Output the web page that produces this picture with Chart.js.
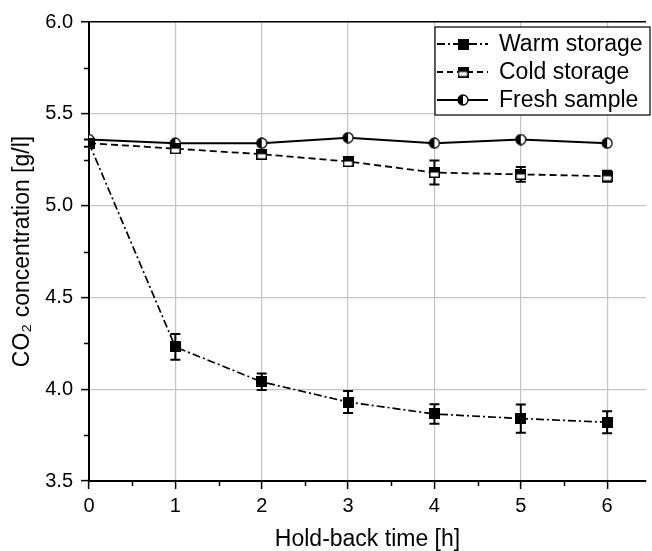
<!DOCTYPE html>
<html>
<head>
<meta charset="utf-8">
<script src="https://cdn.jsdelivr.net/npm/chart.js@4.4.0/dist/chart.umd.min.js"></script>
<style>
  html, body { margin: 0; padding: 0; background: #fff; overflow: hidden; }
  #wrap { width: 652px; height: 551px; }
</style>
</head>
<body>
<div id="wrap"><canvas id="c" width="652" height="551"></canvas></div>
<script>
// ---- data ----
const holdBackHours = [0, 1, 2, 3, 4, 5, 6];
const warmStorage = [5.34, 4.23, 4.04, 3.93, 3.865, 3.84, 3.82];
const warmStorageErr = [0, 0.07, 0.045, 0.06, 0.053, 0.077, 0.06];
const coldStorage = [5.34, 5.31, 5.28, 5.24, 5.18, 5.17, 5.16];
const coldStorageErr = [0.02, 0.02, 0.02, 0.02, 0.065, 0.04, 0.03];
const freshSample = [5.36, 5.34, 5.34, 5.37, 5.34, 5.36, 5.34];
const freshSampleErr = [0, 0, 0, 0, 0, 0, 0];
const seriesNames = ['Warm storage', 'Cold storage', 'Fresh sample'];
const yTickValues = [3.5, 4.0, 4.5, 5.0, 5.5, 6.0];
const xTickValues = [0, 1, 2, 3, 4, 5, 6];

// ---- marker images ----
function makeMarker(kind, size) {
  const c = document.createElement('canvas');
  c.width = size; c.height = size;
  const g = c.getContext('2d');
  const s = size;
  if (kind === 'filledSquare') {
    g.fillStyle = '#000';
    g.fillRect(0, 0, s, s);
  } else if (kind === 'halfSquare') {
    g.fillStyle = '#fff';
    g.fillRect(0, 0, s, s);
    g.fillStyle = '#000';
    g.fillRect(0, 0, s, s / 2);
    g.strokeStyle = '#000';
    g.lineWidth = 1.5;
    g.strokeRect(0.75, 0.75, s - 1.5, s - 1.5);
  } else if (kind === 'halfCircle') {
    const r = s / 2 - 1;
    g.fillStyle = '#fff';
    g.beginPath(); g.arc(s / 2, s / 2, r, 0, Math.PI * 2); g.fill();
    g.fillStyle = '#000';
    g.beginPath(); g.arc(s / 2, s / 2, r, Math.PI / 2, Math.PI * 1.5); g.closePath(); g.fill();
    g.strokeStyle = '#000';
    g.lineWidth = 1.3;
    g.beginPath(); g.arc(s / 2, s / 2, r, 0, Math.PI * 2); g.stroke();
  }
  return c;
}
const mWarm = makeMarker('filledSquare', 11);
const mCold = makeMarker('halfSquare', 11);
const mFresh = makeMarker('halfCircle', 12);

function pts(arr) { return holdBackHours.map((h, i) => ({ x: h, y: arr[i] })); }
const isMajorY = v => yTickValues.some(t => Math.abs(t - v) < 1e-9);
const isMajorX = v => xTickValues.some(t => Math.abs(t - v) < 1e-9);

const errs = [warmStorageErr, coldStorageErr, freshSampleErr];

const errorBarPlugin = {
  id: 'errorBars',
  beforeDatasetsDraw(chart) {
    const ctx = chart.ctx;
    const xs = chart.scales.x, ys = chart.scales.y;
    ctx.save();
    ctx.strokeStyle = '#000';
    ctx.lineWidth = 2;
    chart.data.datasets.forEach((ds, di) => {
      const e = errs[di];
      ds.data.forEach((p, i) => {
        if (!e[i]) return;
        const px = xs.getPixelForValue(p.x);
        const top = ys.getPixelForValue(p.y + e[i]);
        const bot = ys.getPixelForValue(p.y - e[i]);
        ctx.beginPath();
        ctx.moveTo(px, top); ctx.lineTo(px, bot);
        ctx.moveTo(px - 5, top); ctx.lineTo(px + 5, top);
        ctx.moveTo(px - 5, bot); ctx.lineTo(px + 5, bot);
        ctx.stroke();
      });
    });
    ctx.restore();
  }
};

// short minor tick marks
const minorTickPlugin = {
  id: 'minorTicks',
  afterDraw(chart) {
    const ctx = chart.ctx;
    const xs = chart.scales.x, ys = chart.scales.y;
    const ca = chart.chartArea;
    ctx.save();
    ctx.strokeStyle = '#000';
    ctx.lineWidth = 1.5;
    xs.ticks.forEach(t => {
      if (isMajorX(t.value)) return;
      const px = Math.round(xs.getPixelForValue(t.value)) + 0.5;
      ctx.beginPath(); ctx.moveTo(px, ca.bottom); ctx.lineTo(px, ca.bottom + 5); ctx.stroke();
    });
    ys.ticks.forEach(t => {
      if (isMajorY(t.value)) return;
      const py = Math.round(ys.getPixelForValue(t.value)) + 0.5;
      ctx.beginPath(); ctx.moveTo(ca.left, py); ctx.lineTo(ca.left - 5, py); ctx.stroke();
    });
    ctx.restore();
  }
};

const legendPlugin = {
  id: 'boxLegend',
  afterDraw(chart) {
    const ctx = chart.ctx;
    ctx.save();
    const bx = 435, by = 27, bw = 215, bh = 88;
    ctx.fillStyle = '#fff';
    ctx.fillRect(bx, by, bw, bh);
    ctx.strokeStyle = '#000';
    ctx.lineWidth = 1.2;
    ctx.strokeRect(bx, by, bw, bh);
    const rows = [44, 72, 100];
    const dashes = [[8, 3, 2, 3], [6, 4], []];
    const markers = [mWarm, mCold, mFresh];
    chart.data.datasets.forEach((ds, i) => {
      const y = rows[i];
      ctx.strokeStyle = '#000';
      ctx.lineWidth = 1.8;
      ctx.setLineDash(dashes[i]);
      ctx.beginPath(); ctx.moveTo(437, y); ctx.lineTo(488, y); ctx.stroke();
      ctx.setLineDash([]);
      const m = markers[i];
      ctx.drawImage(m, 463 - m.width / 2, y - m.height / 2);
      ctx.fillStyle = '#000';
      ctx.font = '23px "Liberation Sans", Arial, sans-serif';
      ctx.textBaseline = 'middle';
      ctx.textAlign = 'left';
      ctx.fillText(ds.label, 499, y + 1);
    });
    ctx.restore();
  }
};

const tickFont = { family: '"Liberation Sans", Arial, sans-serif', size: 20 };
const titleFont = { family: '"Liberation Sans", Arial, sans-serif', size: 23, lineHeight: 1.0 };

new Chart(document.getElementById('c'), {
  type: 'line',
  data: {
    datasets: [
      { label: seriesNames[0], data: pts(warmStorage), borderColor: '#000', borderWidth: 1.7,
        borderDash: [8, 3, 2, 3], pointStyle: mWarm, tension: 0, fill: false },
      { label: seriesNames[1], data: pts(coldStorage), borderColor: '#000', borderWidth: 1.8,
        borderDash: [7, 4], pointStyle: mCold, tension: 0, fill: false },
      { label: seriesNames[2], data: pts(freshSample), borderColor: '#000', borderWidth: 2,
        pointStyle: mFresh, tension: 0, fill: false }
    ]
  },
  options: {
    responsive: false,
    animation: false,
    devicePixelRatio: 1,
    layout: { padding: { left: 0, top: 22, right: 2, bottom: 0 } },
    plugins: { legend: { display: false }, tooltip: { enabled: false } },
    scales: {
      x: {
        type: 'linear', min: 0, max: 6.45,
        afterFit(s) { s.height = 70; },
        ticks: {
          stepSize: 0.5, includeBounds: false, autoSkip: false, maxRotation: 0,
          color: '#000', font: tickFont, padding: 5,
          callback: v => isMajorX(v) ? String(v) : ''
        },
        grid: {
          color: c => (c.tick && Number.isInteger(c.tick.value) && c.tick.value > 0) ? '#c4c4c4' : 'rgba(0,0,0,0)',
          lineWidth: 1.2,
          tickColor: c => (c.tick && isMajorX(c.tick.value)) ? '#000' : 'rgba(0,0,0,0)',
          tickWidth: 1.5, tickLength: 8
        },
        border: { color: '#000', width: 2 },
        title: { display: true, text: 'Hold-back time [h]', color: '#000', font: titleFont, padding: { top: 0, bottom: 0 } }
      },
      y: {
        type: 'linear', min: 3.5, max: 6.0,
        afterFit(s) { s.width = 89; },
        ticks: {
          stepSize: 0.25, includeBounds: false, autoSkip: false,
          color: '#000', font: tickFont, padding: 8,
          callback: v => isMajorY(v) ? v.toFixed(1) : ''
        },
        grid: {
          color: c => {
            if (!c.tick) return 'rgba(0,0,0,0)';
            const v = c.tick.value;
            if (Math.abs(v - 6) < 1e-9) return '#000';
            if (Math.abs(v - 3.5) < 1e-9) return 'rgba(0,0,0,0)';
            return isMajorY(v) ? '#c4c4c4' : 'rgba(0,0,0,0)';
          },
          lineWidth: c => (c.tick && Math.abs(c.tick.value - 6) < 1e-9) ? 1.5 : 1.2,
          tickColor: c => (c.tick && isMajorY(c.tick.value)) ? '#000' : 'rgba(0,0,0,0)',
          tickWidth: 1.5, tickLength: 8
        },
        border: { color: '#000', width: 2 },
        title: { display: true, text: 'CO₂ concentration [g/l]', color: '#000', font: titleFont, padding: { top: 11, bottom: 0 } }
      }
    }
  },
  plugins: [errorBarPlugin, minorTickPlugin, legendPlugin]
});
</script>
</body>
</html>
